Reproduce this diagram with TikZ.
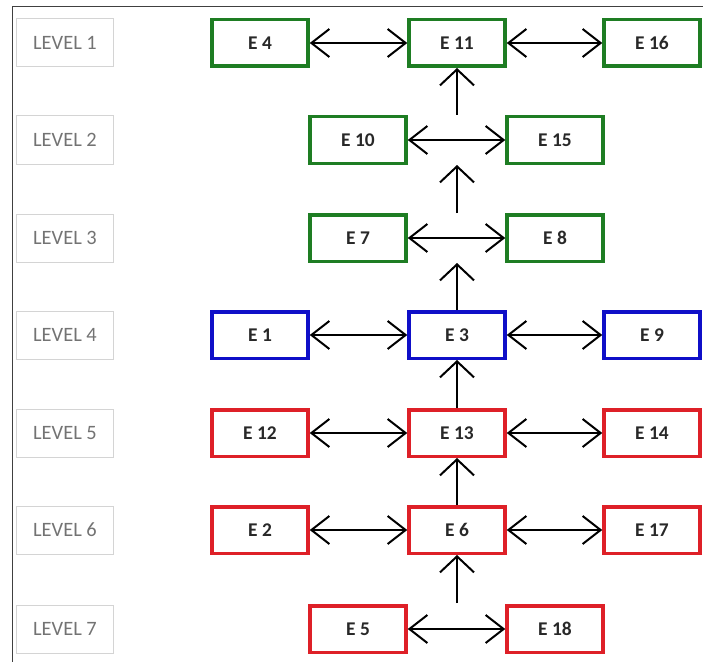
\documentclass[tikz,border=0pt]{standalone}
\usepackage{fontspec}
\setmainfont{Carlito}
\usetikzlibrary{arrows.meta}
\definecolor{eg}{RGB}{30,125,35}
\definecolor{eb}{RGB}{15,15,200}
\definecolor{er}{RGB}{222,32,40}
\definecolor{lvtext}{RGB}{115,115,115}
\definecolor{lvbox}{RGB}{212,212,212}
\definecolor{etext}{RGB}{40,40,40}
\begin{document}
\begin{tikzpicture}[x=1bp,y=-1bp,
 ebox/.style={draw=#1, line width=3.5bp, minimum width=96bp, minimum height=46.5bp, inner sep=0pt, font=\fontsize{19.5}{22}\selectfont\bfseries, text=etext},
 lbox/.style={draw=lvbox, line width=1bp, minimum width=97bp, minimum height=48bp, inner sep=0pt, font=\fontsize{20.5}{22}\selectfont, text=lvtext},
 arr/.style={line width=2bp, -{Straight Barb[length=16bp,width=34bp]}},
 darr/.style={line width=2bp, {Straight Barb[length=18bp,width=28bp]}-{Straight Barb[length=18bp,width=28bp]}}
]
\useasboundingbox (0,0) rectangle (703,662);
\draw[line width=1bp, black!75] (12,662) -- (12,7) -- (703,7);
% level labels
\node[lbox] (l1) at (65,43) {LEVEL 1};
\node[lbox] (l2) at (65,140) {LEVEL 2};
\node[lbox] (l3) at (65,238) {LEVEL 3};
\node[lbox] (l4) at (65,335) {LEVEL 4};
\node[lbox] (l5) at (65,433) {LEVEL 5};
\node[lbox] (l6) at (65,530) {LEVEL 6};
\node[lbox] (l7) at (65,629) {LEVEL 7};
% level 1
\node[ebox=eg] (e4) at (260,43) {E 4};
\node[ebox=eg] (e11) at (457,43) {E 11};
\node[ebox=eg] (e16) at (652,43) {E 16};
% level 2
\node[ebox=eg] (e10) at (358,140) {E 10};
\node[ebox=eg] (e15) at (555,140) {E 15};
% level 3
\node[ebox=eg] (e7) at (358,238) {E 7};
\node[ebox=eg] (e8) at (555,238) {E 8};
% level 4
\node[ebox=eb] (e1) at (260,335) {E 1};
\node[ebox=eb] (e3) at (457,335) {E 3};
\node[ebox=eb] (e9) at (652,335) {E 9};
% level 5
\node[ebox=er] (e12) at (260,433) {E 12};
\node[ebox=er] (e13) at (457,433) {E 13};
\node[ebox=er] (e14) at (652,433) {E 14};
% level 6
\node[ebox=er] (e2) at (260,530) {E 2};
\node[ebox=er] (e6) at (457,530) {E 6};
\node[ebox=er] (e17) at (652,530) {E 17};
% level 7
\node[ebox=er] (e5) at (358,629) {E 5};
\node[ebox=er] (e18) at (555,629) {E 18};
% horizontal arrows
\draw[darr] (e4) -- (e11);
\draw[darr] (e11) -- (e16);
\draw[darr] (e10) -- (e15);
\draw[darr] (e7) -- (e8);
\draw[darr] (e1) -- (e3);
\draw[darr] (e3) -- (e9);
\draw[darr] (e12) -- (e13);
\draw[darr] (e13) -- (e14);
\draw[darr] (e2) -- (e6);
\draw[darr] (e6) -- (e17);
\draw[darr] (e5) -- (e18);
% vertical arrows
\coordinate (v2) at (457,115);
\coordinate (v3a) at (457,213);
\coordinate (v3b) at (457,165);
\coordinate (v4) at (457,263);
\coordinate (v7) at (457,603);
\draw[arr] (v2) -- (e11.south);
\draw[arr] (v3a) -- (v3b);
\draw[arr] (e3.north) -- (v4);
\draw[arr] (e13.north) -- (e3.south);
\draw[arr] (e6.north) -- (e13.south);
\draw[arr] (v7) -- (e6.south);
\end{tikzpicture}
\end{document}
